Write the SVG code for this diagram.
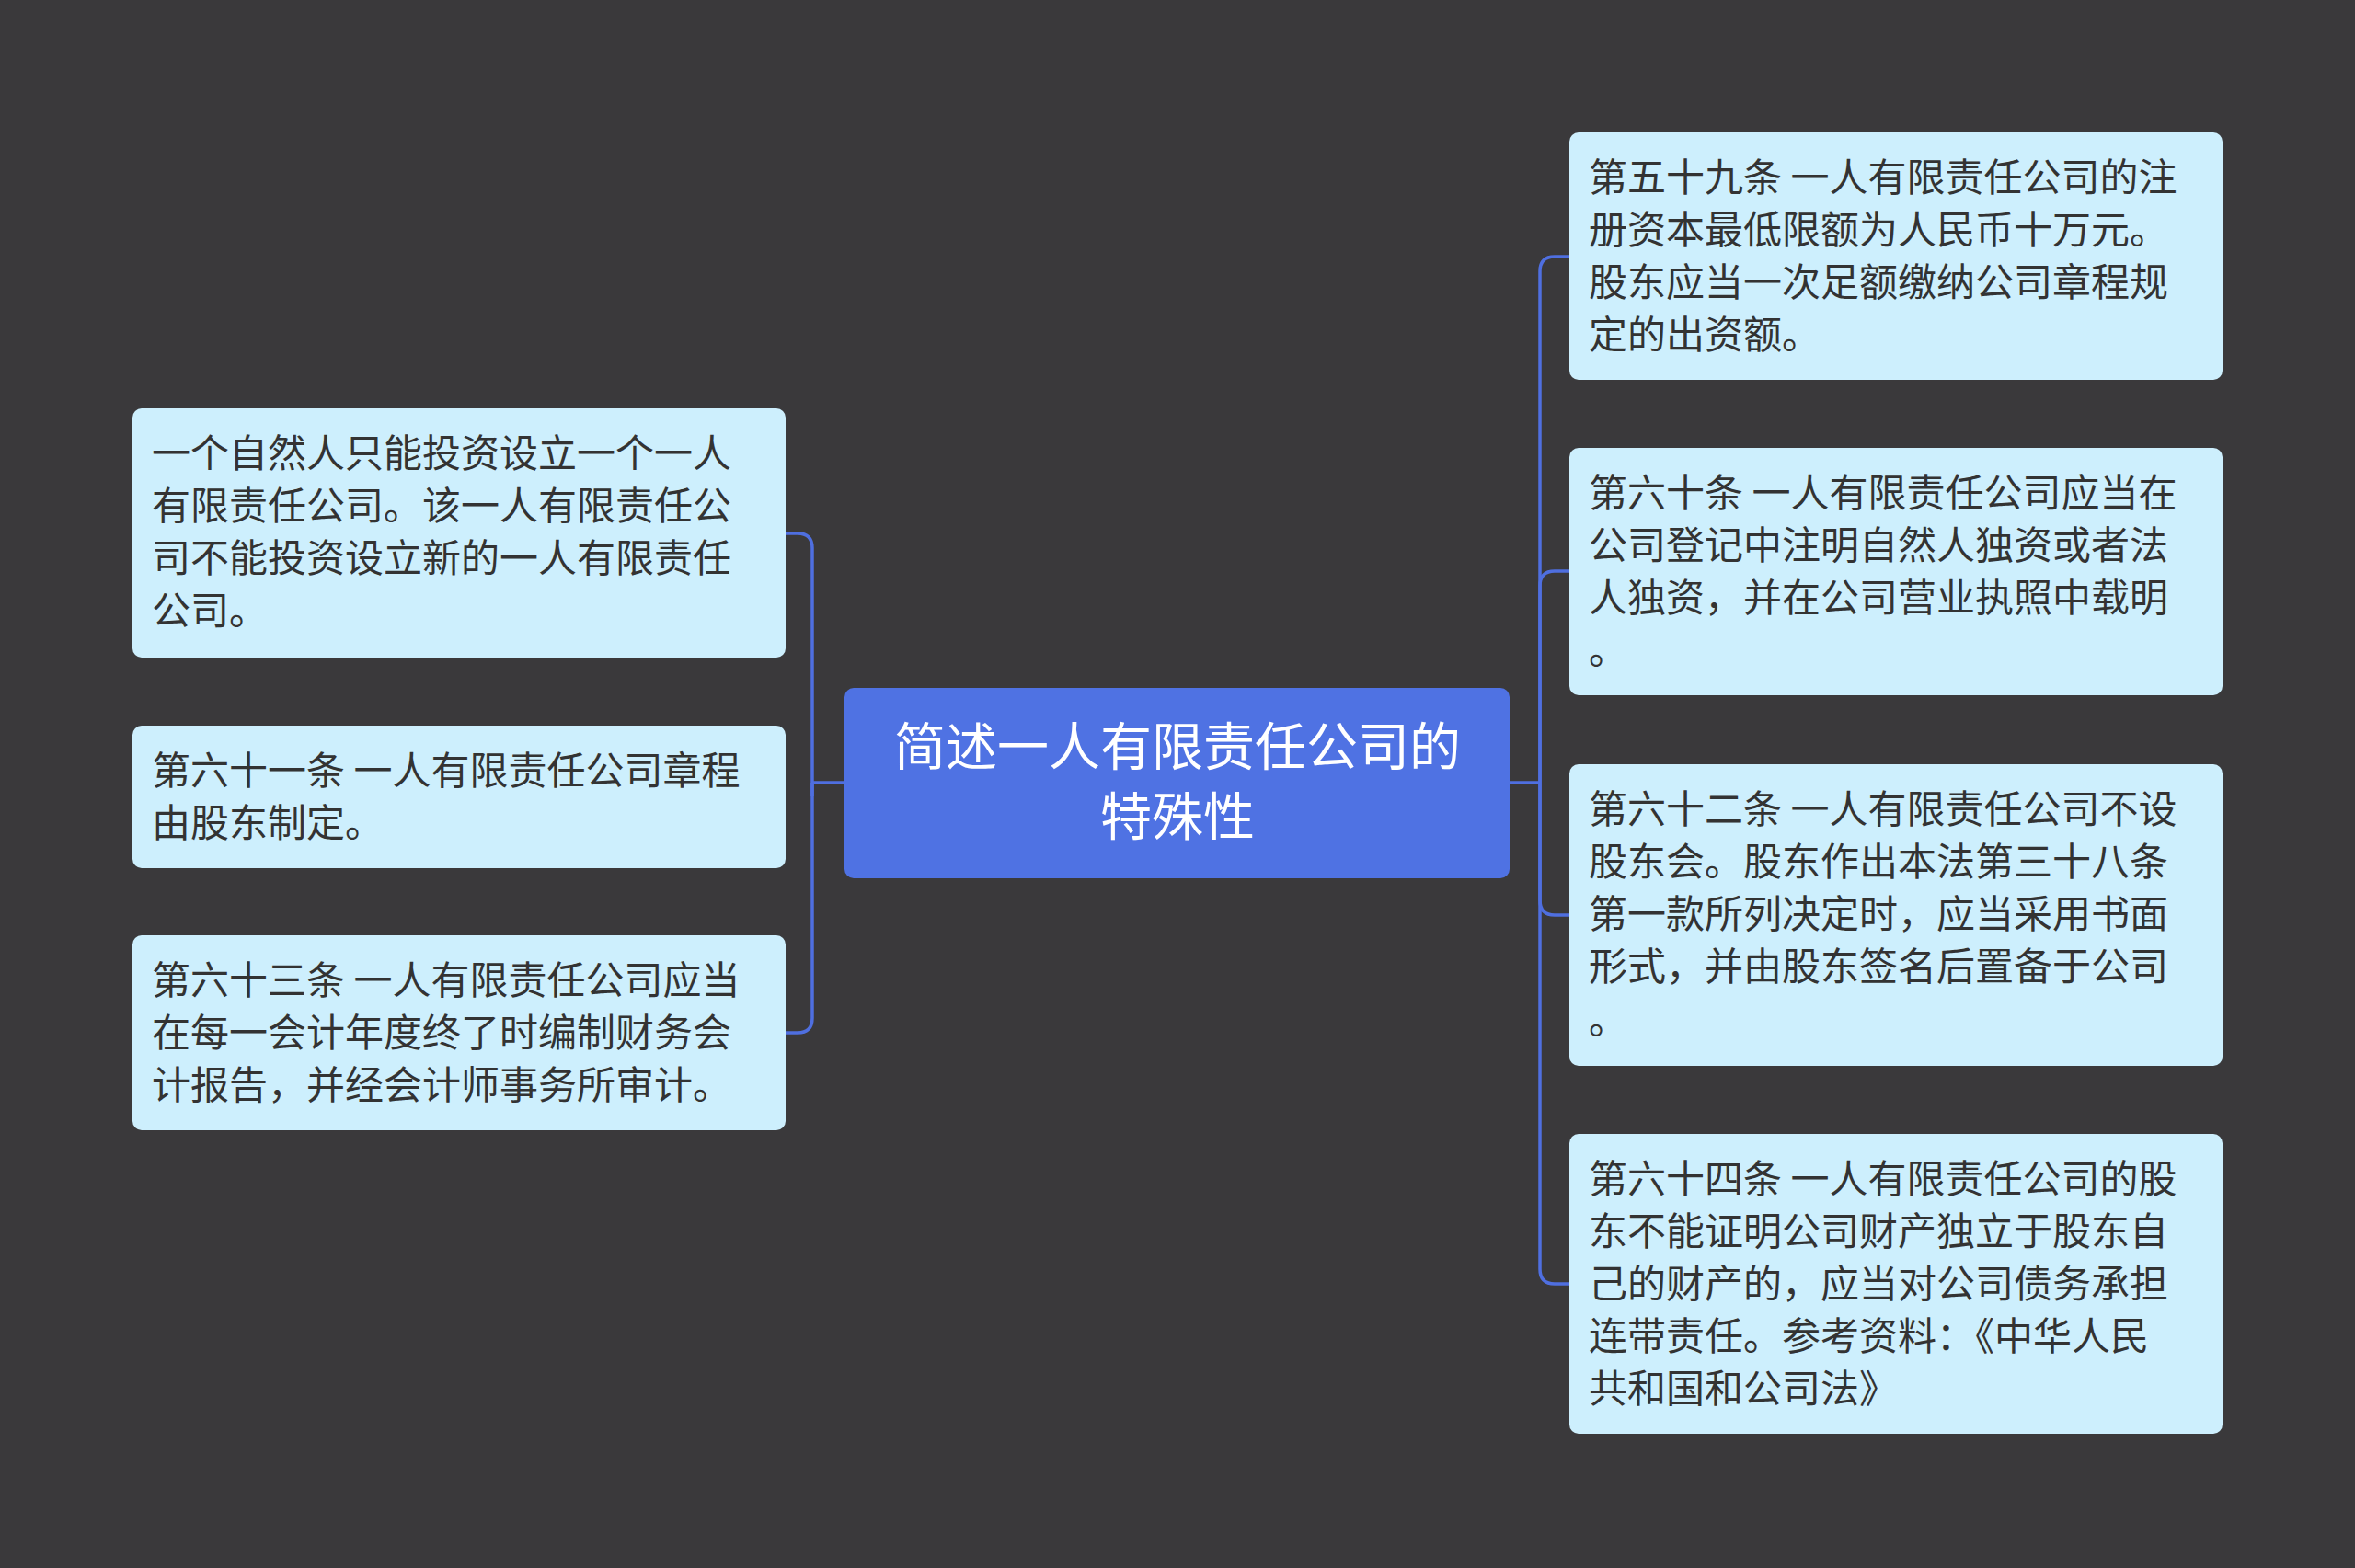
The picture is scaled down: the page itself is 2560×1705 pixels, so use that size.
<svg xmlns="http://www.w3.org/2000/svg" width="2560" height="1705" viewBox="0 0 2560 1705">
<style>
.n{fill:#cdeffd;}
.t{font-family:"Noto Sans CJK SC","Noto Sans",sans-serif;font-size:42px;fill:#333;}
.c{font-family:"Noto Sans CJK SC","Noto Sans",sans-serif;font-size:56px;fill:#fff;text-anchor:middle;}
.l{fill:none;stroke:#4f6fe0;stroke-width:3.5;}
</style>
<rect width="2560" height="1705" fill="#3a393b"/>
<g id="connectors">
<path class="l" d="M918 851H883"/>
<path class="l" d="M883 851V596Q883 580 867 580H854"/>
<path class="l" d="M883 851V866"/>
<path class="l" d="M883 851V1107Q883 1123 867 1123H854"/>
<path class="l" d="M1641 851H1674"/>
<path class="l" d="M1674 851V295Q1674 279 1690 279H1706"/>
<path class="l" d="M1674 851V637Q1674 621 1690 621H1706"/>
<path class="l" d="M1674 851V979Q1674 995 1690 995H1706"/>
<path class="l" d="M1674 851V1380Q1674 1396 1690 1396H1706"/>
</g>
<g id="center">
<rect x="918" y="748" width="723" height="207" rx="10" fill="#4f72e3"/>
<text class="c" x="1280" y="832">简述一人有限责任公司的</text>
<text class="c" x="1280" y="908">特殊性</text>
</g>
<g id="L1">
<rect class="n" x="144" y="444" width="710" height="271" rx="10"/>
<text class="t" x="165" y="508">一个自然人只能投资设立一个一人</text>
<text class="t" x="165" y="565">有限责任公司。该一人有限责任公</text>
<text class="t" x="165" y="622">司不能投资设立新的一人有限责任</text>
<text class="t" x="165" y="679">公司。</text>
</g>
<g id="L2">
<rect class="n" x="144" y="789" width="710" height="155" rx="10"/>
<text class="t" x="165" y="853">第六十一条 一人有限责任公司章程</text>
<text class="t" x="165" y="910">由股东制定。</text>
</g>
<g id="L3">
<rect class="n" x="144" y="1017" width="710" height="212" rx="10"/>
<text class="t" x="165" y="1081">第六十三条 一人有限责任公司应当</text>
<text class="t" x="165" y="1138">在每一会计年度终了时编制财务会</text>
<text class="t" x="165" y="1195">计报告，并经会计师事务所审计。</text>
</g>
<g id="R1">
<rect class="n" x="1706" y="144" width="710" height="269" rx="10"/>
<text class="t" x="1727" y="208">第五十九条 一人有限责任公司的注</text>
<text class="t" x="1727" y="265">册资本最低限额为人民币十万元。</text>
<text class="t" x="1727" y="322">股东应当一次足额缴纳公司章程规</text>
<text class="t" x="1727" y="379">定的出资额。</text>
</g>
<g id="R2">
<rect class="n" x="1706" y="487" width="710" height="269" rx="10"/>
<text class="t" x="1727" y="551">第六十条 一人有限责任公司应当在</text>
<text class="t" x="1727" y="608">公司登记中注明自然人独资或者法</text>
<text class="t" x="1727" y="665">人独资，并在公司营业执照中载明</text>
<text class="t" x="1727" y="722">。</text>
</g>
<g id="R3">
<rect class="n" x="1706" y="831" width="710" height="328" rx="10"/>
<text class="t" x="1727" y="895">第六十二条 一人有限责任公司不设</text>
<text class="t" x="1727" y="952">股东会。股东作出本法第三十八条</text>
<text class="t" x="1727" y="1009">第一款所列决定时，应当采用书面</text>
<text class="t" x="1727" y="1066">形式，并由股东签名后置备于公司</text>
<text class="t" x="1727" y="1124">。</text>
</g>
<g id="R4">
<rect class="n" x="1706" y="1233" width="710" height="326" rx="10"/>
<text class="t" x="1727" y="1297">第六十四条 一人有限责任公司的股</text>
<text class="t" x="1727" y="1354">东不能证明公司财产独立于股东自</text>
<text class="t" x="1727" y="1411">己的财产的，应当对公司债务承担</text>
<text class="t" x="1727" y="1468">连带责任。参考资料：《中华人民</text>
<text class="t" x="1727" y="1525">共和国和公司法》</text>
</g>
</svg>
